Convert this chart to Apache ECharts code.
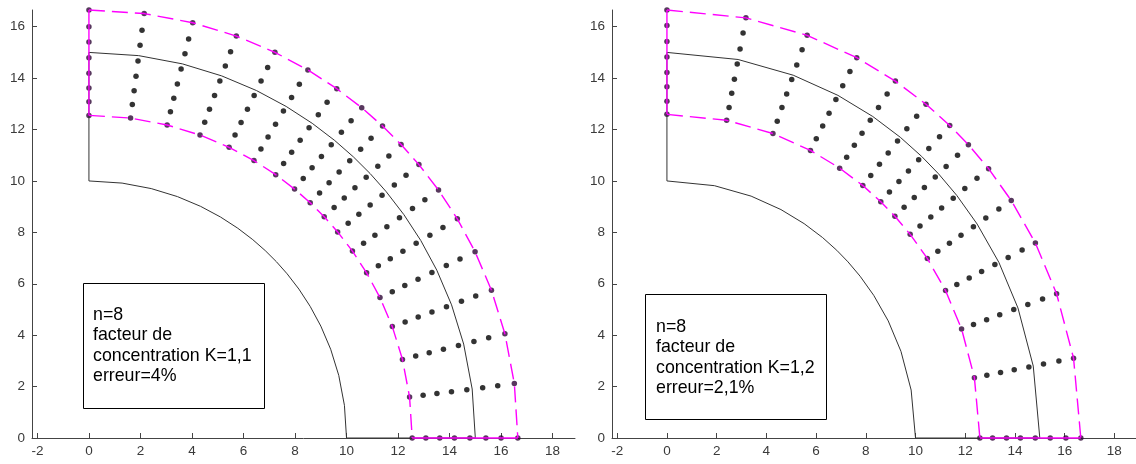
<!DOCTYPE html>
<html><head><meta charset="utf-8">
<script src="https://cdn.jsdelivr.net/npm/echarts@6/dist/echarts.min.js"></script>
<style>html,body{margin:0;padding:0;background:#fff}#c{width:1136px;height:464px}</style>
</head><body><div id="c"></div>
<script>
// tick labels
const xTicks = [-2, 0, 2, 4, 6, 8, 10, 12, 14, 16, 18];
const yTicks = [0, 2, 4, 6, 8, 10, 12, 14, 16];
// geometry (radii in axis units, angles in degrees)
const holeRadius = 10;
const layerRadius = 15;
// panel 1 (K=1,1): mesh line angles and node radii
const anglesK11 = [90, 82.6, 76.0, 69.9, 64.3, 59.3, 54.7, 50.5, 46.8, 43.3, 39.7, 35.4, 30.8, 25.8, 20.2, 14.1, 7.3, 0];
const radiiK11 = [12.55, 13.08, 13.62, 14.19, 14.79, 15.41, 16.0, 16.65];
// panel 2 (K=1,2)
const anglesK12 = [90, 79.0, 70.2, 62.7, 56.5, 51.25, 46.9, 43.25, 39.0, 33.7, 27.1, 19.7, 10.75, 0];
const radiiK12 = [12.59, 13.1, 13.66, 14.22, 14.82, 15.42, 16.05, 16.65];
// annotation texts
const labelsK11 = ['n=8', 'facteur de', 'concentration K=1,1', 'erreur=4%'];
const labelsK12 = ['n=8', 'facteur de', 'concentration K=1,2', 'erreur=2,1%'];

const FONT = '"Liberation Sans", Arial, sans-serif';
function pt(r, deg) { const a = deg * Math.PI / 180; return [r * Math.cos(a), r * Math.sin(a)]; }
function arc(r, angles) { return angles.map(a => pt(r, a)); }

function panelSeries(p, angles, radii) {
  const base = { type: 'line', xAxisIndex: p, yAxisIndex: p, symbol: 'none', showSymbol: false,
    clip: false, silent: true, animation: false, smooth: false };
  const rIn = radii[0], rOut = radii[radii.length - 1];
  const black = { color: '#333', width: 1 };
  const mag = { color: '#ff00ff', width: 1.4 };
  const dots = [];
  angles.forEach((a, i) => radii.forEach((r, j) => {
    const edge = i === 0 || i === angles.length - 1 || j === 0 || j === radii.length - 1;
    dots.push({ value: pt(r, a), itemStyle: { color: edge ? '#2e0636' : '#000' } });
  }));
  return [
    Object.assign({}, base, { data: arc(holeRadius, angles), lineStyle: black }),
    Object.assign({}, base, { data: arc(layerRadius, angles), lineStyle: black }),
    Object.assign({}, base, { data: [[0, holeRadius], [0, layerRadius]], lineStyle: black }),
    Object.assign({}, base, { data: [[holeRadius, 0], [layerRadius, 0]], lineStyle: black }),
    Object.assign({}, base, { data: arc(rIn, angles), lineStyle: Object.assign({ type: [16, 7] }, mag) }),
    Object.assign({}, base, { data: arc(rOut, angles), lineStyle: Object.assign({ type: [16, 7] }, mag) }),
    Object.assign({}, base, { data: [[0, rIn], [0, rOut]], lineStyle: mag }),
    Object.assign({}, base, { data: [[rIn, 0], [rOut, 0]], lineStyle: mag }),
    { type: 'scatter', xAxisIndex: p, yAxisIndex: p, symbol: 'circle', symbolSize: 5.5, clip: false,
      silent: true, animation: false, data: dots }
  ];
}

function xAx(p) {
  return { type: 'value', gridIndex: p, min: -2.21, max: 18.87,
    axisLine: { show: true, onZero: false, lineStyle: { color: '#444', width: 1 } },
    axisTick: { show: true, inside: true, length: 5, customValues: xTicks, lineStyle: { color: '#444' } },
    axisLabel: { customValues: xTicks, color: '#3a3a3a', fontSize: 13.5, margin: 6, fontFamily: FONT },
    splitLine: { show: false } };
}
function yAx(p) {
  return { type: 'value', gridIndex: p, min: 0, max: 16.65,
    axisLine: { show: true, onZero: false, lineStyle: { color: '#444', width: 1 } },
    axisTick: { show: true, inside: true, length: 5, customValues: yTicks, lineStyle: { color: '#444' } },
    axisLabel: { customValues: yTicks, color: '#3a3a3a', fontSize: 13.5, margin: 7, fontFamily: FONT },
    splitLine: { show: false } };
}

function box(x, y, w, h, tx, ty, lines) {
  const els = [{ type: 'rect', shape: { x: x + 0.5, y: y + 0.5, width: w, height: h },
    style: { fill: '#fff', stroke: '#000', lineWidth: 1 }, z: 10 }];
  lines.forEach((t, i) => els.push({ type: 'text', x: tx, y: ty + i * 20.5, z: 11,
    style: { text: t, fill: '#000', fontSize: 17.8, fontFamily: FONT, verticalAlign: 'middle', align: 'left' } }));
  return els;
}

const chart = echarts.init(document.getElementById('c'), null, { renderer: 'canvas' });
chart.setOption({
  animation: false,
  backgroundColor: '#fff',
  grid: [
    { left: 32, top: 10, width: 543, height: 428 },
    { left: 612, top: 10, width: 543, height: 428 }
  ],
  xAxis: [xAx(0), xAx(1)],
  yAxis: [yAx(0), yAx(1)],
  series: panelSeries(0, anglesK11, radiiK11).concat(panelSeries(1, anglesK12, radiiK12)),
  graphic: box(83, 283, 181, 125, 93, 315, labelsK11).concat(box(645, 294, 181, 125, 656, 327, labelsK12))
});
</script></body></html>
